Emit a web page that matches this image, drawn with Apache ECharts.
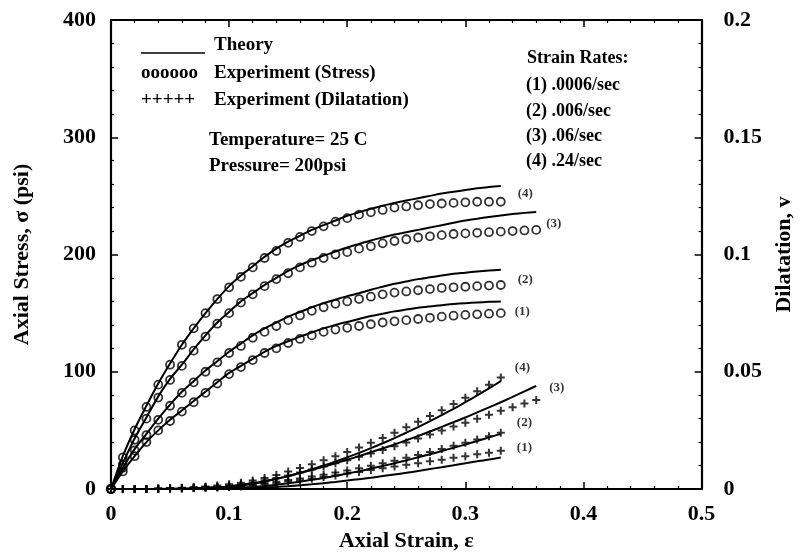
<!DOCTYPE html>
<html>
<head>
<meta charset="utf-8">
<script src="https://cdn.jsdelivr.net/npm/echarts@6/dist/echarts.min.js"></script>
<style>
  html, body { margin: 0; padding: 0; background: #fff; }
  #chart { width: 803px; height: 560px; }
</style>
</head>
<body>
<div id="chart"></div>
<script>
// Axial strain sample points (tests 1, 2, 4 stop at 0.33; test 3 runs to 0.36)
const strainShort = [0,0.01,0.02,0.03,0.04,0.05,0.06,0.07,0.08,0.09,0.10,0.11,0.12,0.13,0.14,0.15,0.16,0.17,0.18,0.19,0.20,0.21,0.22,0.23,0.24,0.25,0.26,0.27,0.28,0.29,0.30,0.31,0.32,0.33];
const strainLong = [0,0.01,0.02,0.03,0.04,0.05,0.06,0.07,0.08,0.09,0.10,0.11,0.12,0.13,0.14,0.15,0.16,0.17,0.18,0.19,0.20,0.21,0.22,0.23,0.24,0.25,0.26,0.27,0.28,0.29,0.30,0.31,0.32,0.33,0.34,0.35,0.36];

// Axial stress (psi), measured
const stressExp1 = [0,15,28,40,50,58,66,74,82,90,98,104,110,116,120,124.5,128,131,134,136,137.5,139,140.5,142,143,144,145,146,147,147.8,148.5,149,149.5,150];
const stressExp2 = [0,18,33,46,59,71,82,91,100,108,116,122,129,134,139,144,148,152,155,158,160,162,164,166,167.5,168.5,169.5,170.5,171.5,172,172.5,173,173.5,174];
const stressExp3 = [0,21,42,60,78,93,105,118,130,141,150,159,166,173,179,184,189,193,197,200,202,205,207,209.5,211.5,213,214.5,215.5,216.5,217.5,218,218.5,219,219.5,220,220.5,221];
const stressExp4 = [0,27,50,70,89,106,123,137,150,162,172,181,189,197,203,210,215,220,224,228,231,234,236,238,240,241,242,243,243.5,244,244.5,245,245,245];

// Axial stress (psi), theory
const stressThe1 = [0,15,28,40,50,59,67,75,83,91,99,105,111,117,122,126,130,133.5,137,140,142.5,145,147.5,149.5,151.5,153,154.5,155.7,156.8,157.7,158.5,159.1,159.6,160];
const stressThe2 = [0,18,34,47,60,72,83,92,101,109,117,124,131,137,142,147,151,155,158.5,161.5,164.5,167,170,172.5,175,177,179,180.5,182,183.5,184.5,185.5,186.3,187];
const stressThe3 = [0,22,43,61,79,94,106,119,131,142,151,160,167,174,180,186,191,195,199,202.5,206,209,212,214.5,217,219,221,223,225,227,229,230.5,232,233.3,234.5,235.5,236.3];
const stressThe4 = [0,28,51,71,90,107,123,137,150,162,173,182,190,198,205,211,216,221,225,229,233,236,239,241.5,244,246,248,250,252,253.5,255,256.5,257.5,258.5];

// Dilatation, measured
const dilExp1 = [0,0,0,0,0.0001,0.0002,0.0003,0.0004,0.0005,0.0006,0.0008,0.0011,0.0015,0.002,0.0025,0.0031,0.0037,0.0044,0.0051,0.0058,0.0066,0.0073,0.0081,0.0088,0.0096,0.0103,0.011,0.0118,0.0125,0.0133,0.014,0.0148,0.0155,0.0163];
const dilExp2 = [0,0,0,0,0.0001,0.0002,0.0003,0.0004,0.0006,0.0008,0.001,0.0014,0.0019,0.0025,0.0031,0.0038,0.0045,0.0053,0.0061,0.007,0.0079,0.0089,0.0099,0.011,0.0121,0.0133,0.0145,0.0158,0.0171,0.0184,0.0197,0.0211,0.0225,0.024];
const dilExp3 = [0,0,0,0,0.0001,0.0002,0.0003,0.0005,0.0007,0.001,0.0015,0.002,0.0028,0.0037,0.0047,0.0058,0.007,0.0083,0.0096,0.011,0.0123,0.0137,0.0151,0.0166,0.0182,0.0198,0.0215,0.0232,0.0249,0.0266,0.0283,0.03,0.0317,0.0334,0.0349,0.0365,0.038];
const dilExp4 = [0,0,0,0,0.0002,0.0003,0.0005,0.0008,0.0011,0.0015,0.002,0.0027,0.0036,0.0047,0.006,0.0075,0.009,0.0106,0.0123,0.014,0.0158,0.0177,0.0197,0.0218,0.024,0.0263,0.0287,0.0311,0.0336,0.0362,0.0389,0.0417,0.0445,0.0475];

// Dilatation, theory
const dilThe1 = [0,0,0,0,0,0,0,0,0,0,0.0001,0.0002,0.0004,0.0006,0.0009,0.0012,0.0016,0.002,0.0025,0.003,0.0036,0.0042,0.0048,0.0055,0.0062,0.0069,0.0077,0.0085,0.0093,0.0101,0.011,0.0118,0.0126,0.0134];
const dilThe2 = [0,0,0,0,0,0,0,0,0.0001,0.0002,0.0004,0.0006,0.0009,0.0013,0.0018,0.0024,0.0031,0.0039,0.0047,0.0056,0.0066,0.0076,0.0087,0.0098,0.011,0.0122,0.0135,0.0148,0.0162,0.0176,0.019,0.0205,0.022,0.0235];
const dilThe3 = [0,0,0,0,0,0,0.0001,0.0002,0.0004,0.0007,0.0012,0.0018,0.0025,0.0033,0.0044,0.0055,0.0068,0.0081,0.0095,0.011,0.0125,0.014,0.0157,0.0173,0.019,0.0208,0.0226,0.0245,0.0265,0.0285,0.0305,0.0327,0.0348,0.037,0.0393,0.0416,0.044];
const dilThe4 = [0,0,0,0,0,0.0001,0.0002,0.0003,0.0005,0.0007,0.001,0.0015,0.0022,0.0031,0.0042,0.0055,0.0069,0.0084,0.01,0.0117,0.0135,0.0154,0.0174,0.0195,0.0217,0.024,0.0264,0.0289,0.0315,0.0342,0.037,0.0399,0.0429,0.046];

// Curve tags and legend text
const rateTags = ['(1)', '(2)', '(3)', '(4)'];
const legendLines = ['Theory', 'Experiment (Stress)', 'Experiment (Dilatation)'];
const testConditions = ['Temperature= 25 C', 'Pressure= 200psi'];
const rateHeading = 'Strain Rates:';
const rateLines = ['(1) .0006/sec', '(2) .006/sec', '(3) .06/sec', '(4) .24/sec'];

const FONT = "'Liberation Serif', 'Times New Roman', serif";
const INK = '#000';
const PLUS = 'path://M-1,-4H1V-1H4V1H1V4H-1V1H-4V-1H-1Z';

function pairs(xs, ys) {
  return xs.map((x, i) => [x, ys[i]]);
}

// Attach the curve tag to the last point of a measured series
function tagged(xs, ys, tag, offset) {
  const d = pairs(xs, ys);
  const last = d.length - 1;
  d[last] = {
    value: d[last],
    label: {
      show: true, formatter: tag, position: 'right', distance: 3, offset: offset,
      color: INK, fontFamily: FONT, fontWeight: 'bold', fontSize: 13
    }
  };
  return d;
}

function theoryLine(xs, ys, yAxisIndex) {
  return {
    type: 'line', xAxisIndex: 0, yAxisIndex: yAxisIndex, data: pairs(xs, ys),
    showSymbol: false, smooth: 0.3, silent: true,
    lineStyle: { color: INK, width: 2 }, z: 3
  };
}

function circles(data) {
  return {
    type: 'scatter', xAxisIndex: 0, yAxisIndex: 0, data: data,
    symbol: 'circle', symbolSize: 8, silent: true,
    itemStyle: { color: 'rgba(0,0,0,0)', borderColor: INK, borderWidth: 1.8 }, z: 4
  };
}

function pluses(data) {
  return {
    type: 'scatter', xAxisIndex: 0, yAxisIndex: 1, data: data,
    symbol: PLUS, symbolSize: 8, silent: true,
    itemStyle: { color: INK }, z: 4
  };
}

const tickLabel = { color: INK, fontFamily: FONT, fontWeight: 'bold', fontSize: 22 };
const nameText = { color: INK, fontFamily: FONT, fontWeight: 'bold', fontSize: 22 };
const frameLine = { show: true, onZero: false, lineStyle: { color: INK, width: 2.2 } };
const majorTick = { show: true, inside: true, length: 7, lineStyle: { color: INK, width: 1.5 } };
const minorTick = { show: true, splitNumber: 5, length: 3, lineStyle: { color: INK, width: 1.2 } };

const series = [
  theoryLine(strainShort, stressThe1, 0),
  theoryLine(strainShort, stressThe2, 0),
  theoryLine(strainLong, stressThe3, 0),
  theoryLine(strainShort, stressThe4, 0),
  circles(tagged(strainShort, stressExp1, rateTags[0], [6, -1])),
  circles(tagged(strainShort, stressExp2, rateTags[1], [9, -5])),
  circles(tagged(strainLong, stressExp3, rateTags[2], [2, -6])),
  circles(tagged(strainShort, stressExp4, rateTags[3], [9, -8])),
  theoryLine(strainShort, dilThe1, 1),
  theoryLine(strainShort, dilThe2, 1),
  theoryLine(strainLong, dilThe3, 1),
  theoryLine(strainShort, dilThe4, 1),
  pluses(tagged(strainShort, dilExp1, rateTags[0], [9, -3])),
  pluses(tagged(strainShort, dilExp2, rateTags[1], [9, -10])),
  pluses(tagged(strainLong, dilExp3, rateTags[2], [6, -12])),
  pluses(tagged(strainShort, dilExp4, rateTags[3], [7, -10]))
];

function txt(x, y, text, size) {
  return {
    type: 'text', x: x, y: y, silent: true, z: 10,
    style: {
      text: text, fill: INK, font: 'bold ' + size + 'px ' + FONT,
      align: 'left', verticalAlign: 'middle', textAlign: 'left', textVerticalAlign: 'middle'
    }
  };
}

const graphic = [
  { type: 'line', silent: true, shape: { x1: 141, y1: 53, x2: 205, y2: 53 }, style: { stroke: INK, lineWidth: 1.6 } },
  txt(214, 45, legendLines[0], 19),
  txt(141, 73, 'oooooo', 19),
  txt(214, 73, legendLines[1], 19),
  txt(141, 100, '+++++', 19),
  txt(214, 100, legendLines[2], 19),
  txt(209, 140, testConditions[0], 19),
  txt(209, 166, testConditions[1], 19),
  txt(527, 58, rateHeading, 18),
  txt(526, 85, rateLines[0], 18),
  txt(526, 111, rateLines[1], 18),
  txt(526, 136, rateLines[2], 18),
  txt(526, 161, rateLines[3], 18)
];

const chart = echarts.init(document.getElementById('chart'), null, { renderer: 'canvas' });
chart.setOption({
  animation: false,
  backgroundColor: '#fff',
  grid: { left: 111, right: 93, top: 20, bottom: 71 },
  xAxis: [
    {
      type: 'value', position: 'bottom', min: 0, max: 0.5, interval: 0.1,
      name: 'Axial Strain, ε', nameLocation: 'middle', nameGap: 40, nameTextStyle: nameText,
      axisLine: frameLine, axisTick: majorTick, minorTick: minorTick,
      axisLabel: Object.assign({ margin: 14 }, tickLabel),
      splitLine: { show: false }
    },
    {
      type: 'value', position: 'top', min: 0, max: 0.5, interval: 0.1,
      axisLine: frameLine, axisTick: majorTick, minorTick: minorTick,
      axisLabel: { show: false }, splitLine: { show: false }
    }
  ],
  yAxis: [
    {
      type: 'value', position: 'left', min: 0, max: 400, interval: 100,
      name: 'Axial Stress, σ (psi)', nameLocation: 'middle', nameGap: 78, nameRotate: 90, nameTextStyle: nameText,
      axisLine: frameLine, axisTick: majorTick, minorTick: minorTick,
      axisLabel: Object.assign({ margin: 15 }, tickLabel),
      splitLine: { show: false }
    },
    {
      type: 'value', position: 'right', min: 0, max: 0.2, interval: 0.05,
      name: 'Dilatation, v', nameLocation: 'middle', nameGap: 64, nameRotate: 90, nameTextStyle: nameText,
      axisLine: frameLine, axisTick: majorTick, minorTick: minorTick,
      axisLabel: Object.assign({ margin: 22 }, tickLabel),
      splitLine: { show: false }
    }
  ],
  series: series,
  graphic: graphic
});
</script>
</body>
</html>
